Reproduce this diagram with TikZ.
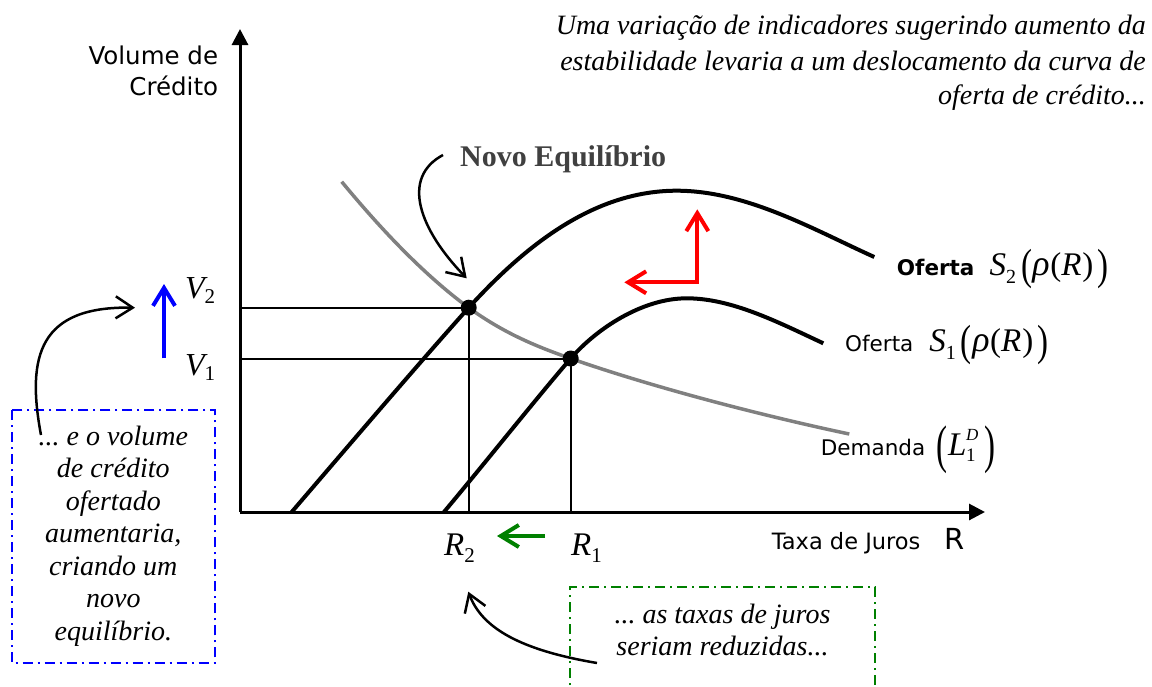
\documentclass[tikz,border=0pt]{standalone}
\usepackage{fontspec}
\usepackage{graphicx}
\setmainfont{Liberation Serif}
\newfontfamily\vsans{DejaVu Sans}
\usetikzlibrary{arrows.meta}
\newcommand{\fsz}[1]{\fontsize{#1}{#1}\selectfont}
\newcommand{\tdots}{...}
\newcommand{\bigpar}[3]{\raisebox{#2}{\scalebox{1}[#3]{\upshape #1}}}
\newcommand{\Sfun}[1]{{\fsz{33}\itshape S\raisebox{-8pt}{\fsz{20}\upshape #1}\kern5pt\bigpar{(}{-4pt}{1.32}\kern0.5pt{\fsz{36}ρ}\kern0.5pt\upshape(\itshape R\kern1pt\upshape)\kern4pt\bigpar{)}{-4pt}{1.32}}}
\definecolor{demgray}{RGB}{128,128,128}
\definecolor{novogray}{RGB}{64,64,64}
\definecolor{boxgreen}{RGB}{0,128,0}
\definecolor{boxblue}{RGB}{0,0,255}
\definecolor{arrred}{RGB}{255,0,0}
\begin{document}
\begin{tikzpicture}[x=1pt,y=-1pt,
  axis/.style={line width=3pt,-{Triangle[length=16pt,width=16pt]}},
  curve/.style={line width=4pt,line join=round,line cap=butt},
  demcurve/.style={line width=3.5pt,demgray},
  guide/.style={line width=2pt},
  dot/.style={circle,fill=black,inner sep=0pt,minimum size=16pt},
  lbl/.style={inner sep=0pt},
  itxt/.style={inner sep=0pt,font=\fsz{28}\itshape},
  blackarr/.style={line width=2.5pt,-{Straight Barb[length=17pt,width=22pt]}},
  colarr/.style={line width=4pt,-{Straight Barb[length=18pt,width=22pt]}},
  dashbox/.style={line width=2pt,dash pattern=on 10pt off 5pt on 2pt off 5pt}
]
\useasboundingbox (0,0) rectangle (1152,686);

% axes
\coordinate (O) at (240,512);
\coordinate (ytip) at (240,29);
\coordinate (xtip) at (985,512);
\draw[axis] (O) -- (ytip);
\draw[axis] (O) -- (xtip);

% equilibria
\coordinate (e2) at (468.7,307.7);
\coordinate (e1) at (570.7,358.5);
\draw[guide] (e2 -| O) -- (e2) -- (e2 |- O);
\draw[guide] (e1 -| O) -- (e1) -- (e1 |- O);

% demand
\draw[demcurve] (341.7,181.7) .. controls (375,222) and (420,272) .. (e2)
   .. controls (505,334) and (538,347) .. (e1)
   .. controls (650.7,386.5) and (759.3,415) .. (849.3,434);

% supply curves
\draw[curve] (291.7,512) .. controls (350,444) and (420,362) .. (e2)
   .. controls (528.7,241.7) and (596.7,190.7) .. (676.7,190.7)
   .. controls (746.7,190.7) and (814.3,230) .. (874.3,257);
\draw[curve] (444,512) .. controls (485,463) and (535,400) .. (e1)
   .. controls (595.7,329.5) and (641.7,298.3) .. (686.7,298.3)
   .. controls (731.7,298.3) and (778.3,322.3) .. (823.3,343.3);
\node[dot] (d2) at (e2) {};
\node[dot] (d1) at (e1) {};

% red shift arrows
\coordinate (rc) at (697.3,282.3);
\coordinate (rup) at (697.3,209.3);
\coordinate (rleft) at (624.3,282.3);
\draw[colarr,arrred,{Straight Barb[length=18pt,width=22pt]}-{Straight Barb[length=18pt,width=22pt]},line join=miter] (rleft) -- (rc) -- (rup);

% blue arrow
\coordinate (bt) at (164,358.3);
\coordinate (bh) at (164,284);
\draw[colarr,boxblue] (bt) -- (bh);

% green arrow
\coordinate (gt) at (545,536);
\coordinate (gh) at (497,536);
\draw[colarr,boxgreen] (gt) -- (gh);

% axis labels
\node[lbl,anchor=base east,font=\vsans\fsz{24.5}] (yl1) at (218.3,64.3) {Volume de};
\node[lbl,anchor=base east,font=\vsans\fsz{24.5}] (yl2) at (218.3,95.7) {Crédito};
\node[lbl,anchor=base west,font=\vsans\fsz{22.5}] (xl) at (771.7,549.3) {Taxa de Juros};
\node[lbl,anchor=base west,font=\vsans\fsz{29}] (xr) at (944,549.3) {R};

% V and R labels
\node[lbl,anchor=base west] (v2) at (185,298.3) {\fsz{32}\itshape V\raisebox{-5pt}{\fsz{21}\upshape 2}};
\node[lbl,anchor=base west] (v1) at (185,375) {\fsz{32}\itshape V\raisebox{-5pt}{\fsz{21}\upshape 1}};
\node[lbl,anchor=base west] (r2) at (444,555) {\fsz{33}\itshape R\raisebox{-7pt}{\fsz{21}\upshape 2}};
\node[lbl,anchor=base west] (r1) at (571,555) {\fsz{33}\itshape R\raisebox{-7pt}{\fsz{21}\upshape 1}};

% curve labels
\node[lbl,anchor=base west] (s2l) at (896.7,275) {{\vsans\bfseries\fsz{21.5}Oferta}\hspace{15pt}\Sfun{2}};
\node[lbl,anchor=base west] (s1l) at (845,351.7) {{\vsans\fsz{21.5}Oferta}\hspace{16pt}\Sfun{1}};
\node[lbl,anchor=base west] (dl) at (820.7,455) {{\vsans\fsz{21.5}Demanda}\hspace{11pt}{\fsz{33}\bigpar{(}{-7pt}{1.6}\kern1pt\itshape L\kern-0.5pt\rlap{\raisebox{15pt}{\fsz{17}D}}\raisebox{-6pt}{\fsz{19}\upshape 1}\kern9pt\bigpar{)}{-7pt}{1.6}}};

% Novo Equilibrio
\node[lbl,anchor=base west,font=\fsz{30}\bfseries,text=novogray] (novo) at (460,166) {Novo Equilíbrio};
\coordinate (na) at (443,155);
\coordinate (nt) at (466.7,278.3);
\draw[blackarr] (na) .. controls (400,178) and (420,230) .. (nt);

% top right text
\node[itxt,anchor=base east] (t1) at (1146,34.5) {Uma variação de indicadores sugerindo aumento da};
\node[itxt,anchor=base east] (t2) at (1146,70) {estabilidade levaria a um deslocamento da curva de};
\node[itxt,anchor=base east] (t3) at (1146,104.5) {oferta de crédito\tdots};

% blue box
\draw[dashbox,boxblue] (11.7,410) rectangle (215,663);
\foreach \t [count=\i] in {{\tdots\ e o volume},{de crédito},{ofertado},{aumentaria,},{criando um},{novo},{equilíbrio.}}
  \node[itxt,anchor=base] (b\i) at (113.3,{445+32.5*(\i-1)}) {\t};
\coordinate (ba) at (41,435);
\coordinate (bat) at (135,307.7);
\draw[blackarr] (ba) .. controls (26,355) and (40,306) .. (bat);

% green box
\draw[dashbox,boxgreen,line width=1.7pt] (570,700) -- (570,587) -- (875,587) -- (875,700);
\node[itxt,anchor=base] (g1) at (722.5,623) {\tdots\ as taxas de juros};
\node[itxt,anchor=base] (g2) at (722.5,655) {seriam reduzidas\tdots};
\coordinate (ga) at (597,663);
\coordinate (gat) at (468.3,591.7);
\draw[blackarr] (ga) .. controls (520,650) and (482,628) .. (gat);
\end{tikzpicture}
\end{document}
